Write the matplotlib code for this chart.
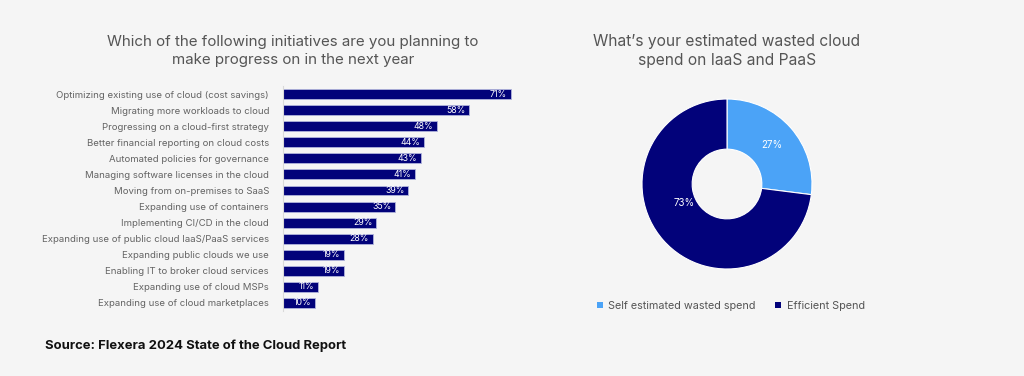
import matplotlib.pyplot as plt
from matplotlib.patches import Patch

initiatives = [
    'Optimizing existing use of cloud (cost savings)',
    'Migrating more workloads to cloud',
    'Progressing on a cloud-first strategy',
    'Better financial reporting on cloud costs',
    'Automated policies for governance',
    'Managing software licenses in the cloud',
    'Moving from on-premises to SaaS',
    'Expanding use of containers',
    'Implementing CI/CD in the cloud',
    'Expanding use of public cloud IaaS/PaaS services',
    'Expanding public clouds we use',
    'Enabling IT to broker cloud services',
    'Expanding use of cloud MSPs',
    'Expanding use of cloud marketplaces',
]
shares = [71, 58, 48, 44, 43, 41, 39, 35, 29, 28, 19, 19, 11, 10]

spend_labels = ['Self estimated wasted spend', 'Efficient Spend']
spend_values = [27, 73]

navy = '#02027a'
light_blue = '#4ba3f7'
bg = '#f5f5f5'
grey = '#555555'

plt.rcParams['font.family'] = ['Inter', 'DejaVu Sans']

fig = plt.figure(figsize=(10.24, 3.76), dpi=100)
fig.set_facecolor(bg)

# bar chart
ax = fig.add_axes([283 / 1024, 0.173, 257 / 1024, 0.598])
ax.set_facecolor(bg)
ypos = list(range(len(initiatives)))
ax.barh(ypos, shares, height=0.62, color=navy, edgecolor='#b0b4dc', linewidth=0.6)
for y, v in zip(ypos, shares):
    ax.text(v - 1.2, y, f'{v}%', ha='right', va='center', color='white', fontsize=6.3)
ax.set_xlim(0, 80)
ax.set_ylim(len(initiatives) - 0.5, -0.5)
ax.set_yticks(ypos)
ax.set_yticklabels(initiatives, fontsize=6.9, color='#636363')
ax.tick_params(axis='y', length=0, pad=10)
ax.set_xticks([])
for s in ['top', 'right', 'bottom']:
    ax.spines[s].set_visible(False)
ax.spines['left'].set_color('#d9d9d9')
ax.spines['left'].set_linewidth(0.8)

fig.text(293 / 1024, 1 - 51 / 376,
         'Which of the following initiatives are you planning to\nmake progress on in the next year',
         ha='center', va='center', fontsize=10.9, color=grey, linespacing=1.4)

# donut
ax2 = fig.add_axes([(727 - 85) / 1024, (376 - 184 - 85) / 376, 170 / 1024, 170 / 376])
ax2.set_facecolor(bg)
wedges, texts, autotexts = ax2.pie(
    spend_values, colors=[light_blue, navy], startangle=90, counterclock=False,
    wedgeprops=dict(width=0.59, edgecolor='white', linewidth=0.8),
    autopct='%d%%', pctdistance=0.7, textprops=dict(color='white', fontsize=7))
autotexts[1].set_position((-0.5, -0.22))
ax2.set_xlim(-1, 1)
ax2.set_ylim(-1, 1)

fig.text(727 / 1024, 1 - 51 / 376,
         'What\u2019s your estimated wasted cloud\nspend on IaaS and PaaS',
         ha='center', va='center', fontsize=11.2, color=grey, linespacing=1.4)

handles = [Patch(facecolor=c) for c in [light_blue, navy]]
fig.legend(handles, spend_labels, loc='center', bbox_to_anchor=(731 / 1024, 1 - 306 / 376),
           ncol=2, frameon=False, fontsize=7.8, labelcolor=grey,
           handlelength=0.55, handleheight=0.55, handletextpad=0.5, columnspacing=1.8)

fig.text(45 / 1024, 1 - 346 / 376, 'Source: Flexera 2024 State of the Cloud Report',
         ha='left', va='center', fontsize=9.4, fontweight='bold', color='#111111')

fig.savefig('out.png', dpi=100, facecolor=bg)
